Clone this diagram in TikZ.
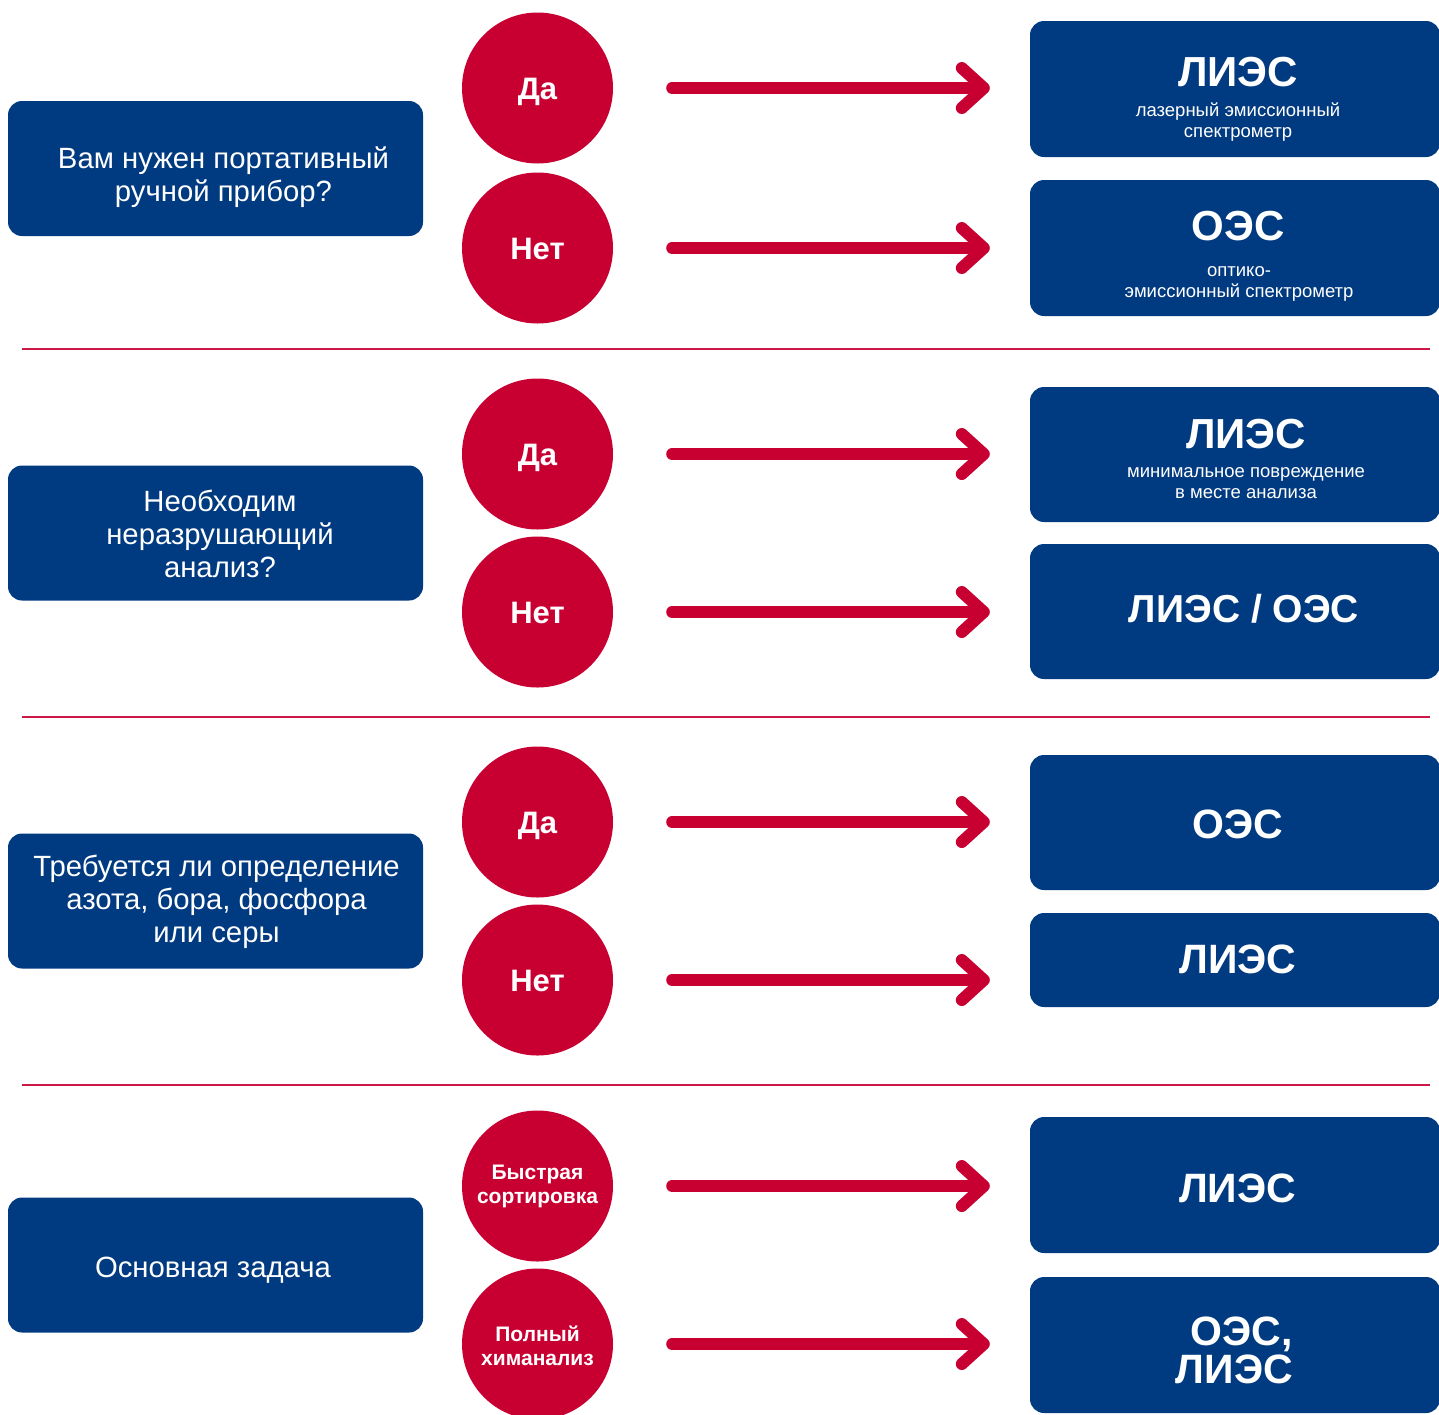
\documentclass[tikz,border=0pt]{standalone}
\usepackage{fontspec}
\setmainfont{Liberation Sans}
\usetikzlibrary{arrows.meta}
\definecolor{navy}{RGB}{0,58,128}
\definecolor{crim}{RGB}{200,0,50}
\begin{document}
\begin{tikzpicture}[x=1pt,y=-1pt,
  qbox/.style={fill=navy, rounded corners=14pt, minimum width=415pt, minimum height=135pt, inner sep=0pt},
  rbox/.style={fill=navy, rounded corners=14pt, minimum width=410pt, inner sep=0pt},
  ans/.style={circle, fill=crim, minimum size=151pt, inner sep=0pt},
  qtext/.style={text=white, font=\fontsize{29.3}{33}\selectfont, align=center, anchor=base, inner sep=0pt},
  atext/.style={text=white, font=\bfseries\fontsize{31}{36}\selectfont, anchor=base, inner sep=0pt},
  atextsm/.style={text=white, font=\bfseries\fontsize{21}{24}\selectfont, align=center, inner sep=0pt},
  titletxt/.style={text=white, font=\bfseries\fontsize{42}{46}\selectfont, anchor=base, inner sep=0pt},
  titlesm/.style={text=white, font=\bfseries\fontsize{41}{38}\selectfont, anchor=base, inner sep=0pt},
  subtxt/.style={text=white, font=\fontsize{18.5}{20.5}\selectfont, anchor=base, inner sep=0pt, align=center},
  flowarr/.style={draw=crim, line width=12pt, line cap=round, -{Straight Barb[length=22pt,width=40pt,round]}},
  sepline/.style={draw=crim!90!white, line width=2.5pt}
]
\useasboundingbox (0,0) rectangle (1439,1414);
\begin{scope}
\clip (0,0) rectangle (1439,1414);

% separators
\draw[sepline] (22,349) -- (1430,349);
\draw[sepline] (22,717) -- (1430,717);
\draw[sepline] (22,1085) -- (1430,1085);

% question boxes (multi-line text: base anchor = last line)
\node[qbox] (q1) at (215.5,168.5) {};
\node[qbox] (q2) at (215.5,533) {};
\node[qbox] (q3) at (215.5,901) {};
\node[qbox] (q4) at (215.5,1265) {};
\node[qtext] (q1t) at (223.5,201) {Вам нужен портативный\\ручной прибор?};
\node[qtext] (q2t) at (220,577) {Необходим\\неразрушающий\\анализ?};
\node[qtext] (q3t) at (216.5,942) {Требуется ли определение\\азота, бора, фосфора\\или серы};
\node[qtext] (q4t) at (213,1277) {Основная задача};

% answer circles
\node[ans] (c1) at (537.5,88) {};
\node[ans] (c2) at (537.5,248) {};
\node[ans] (c3) at (537.5,454) {};
\node[ans] (c4) at (537.5,612) {};
\node[ans] (c5) at (537.5,822) {};
\node[ans] (c6) at (537.5,980) {};
\node[ans] (c7) at (537.5,1186) {};
\node[ans] (c8) at (537.5,1344) {};
\node[atext] (c1t) at ([yshift=-11.5pt]c1.center) {Да};
\node[atext] (c2t) at ([yshift=-11.5pt]c2.center) {Нет};
\node[atext] (c3t) at ([yshift=-11.5pt]c3.center) {Да};
\node[atext] (c4t) at ([yshift=-11.5pt]c4.center) {Нет};
\node[atext] (c5t) at ([yshift=-11.5pt]c5.center) {Да};
\node[atext] (c6t) at ([yshift=-11.5pt]c6.center) {Нет};
\node[atextsm] (c7t) at (c7.center) {Быстрая\\сортировка};
\node[atextsm] (c8t) at ([yshift=-2pt]c8.center) {Полный\\химанализ};

% result boxes
\node[rbox, minimum height=136pt] (r1) at (1235,89) {};
\node[rbox, minimum height=136pt] (r2) at (1235,248) {};
\node[rbox, minimum height=135pt] (r3) at (1235,454.5) {};
\node[rbox, minimum height=135pt] (r4) at (1235,611.5) {};
\node[rbox, minimum height=135pt] (r5) at (1235,822.5) {};
\node[rbox, minimum height=94pt] (r6) at (1235,960) {};
\node[rbox, minimum height=136pt] (r7) at (1235,1185) {};
\node[rbox, minimum height=136pt] (r8) at (1235,1345) {};

\node[titletxt] (r1t) at (1238,86) {ЛИЭС};
\node[subtxt] (r1s) at (1238,137) {лазерный эмиссионный\\спектрометр};
\node[titletxt] (r2t) at (1238,240) {ОЭС};
\node[subtxt] (r2s) at (1239,297) {оптико-\\эмиссионный спектрометр};
\node[titletxt] (r3t) at (1246,448) {ЛИЭС};
\node[subtxt] (r3s) at (1246,498) {минимальное повреждение\\в месте анализа};
\node[titletxt, font=\bfseries\fontsize{39}{42}\selectfont] (r4t) at (1244,622) {ЛИЭС / ОЭС};
\node[titlesm] (r5t) at (1238,838) {ОЭС};
\node[titlesm] (r6t) at (1238,973) {ЛИЭС};
\node[titlesm] (r7t) at (1237.5,1202) {ЛИЭС};
\node[titlesm, align=right, anchor=base east] (r8t) at (1293,1383) {ОЭС,\\ЛИЭС};

% arrows
\foreach \i in {1,...,8}{
  \draw[flowarr] ([xshift=59pt]c\i.east) -- ([xshift=-40pt]r\i.west |- c\i.east);
}
\end{scope}
\end{tikzpicture}
\end{document}
